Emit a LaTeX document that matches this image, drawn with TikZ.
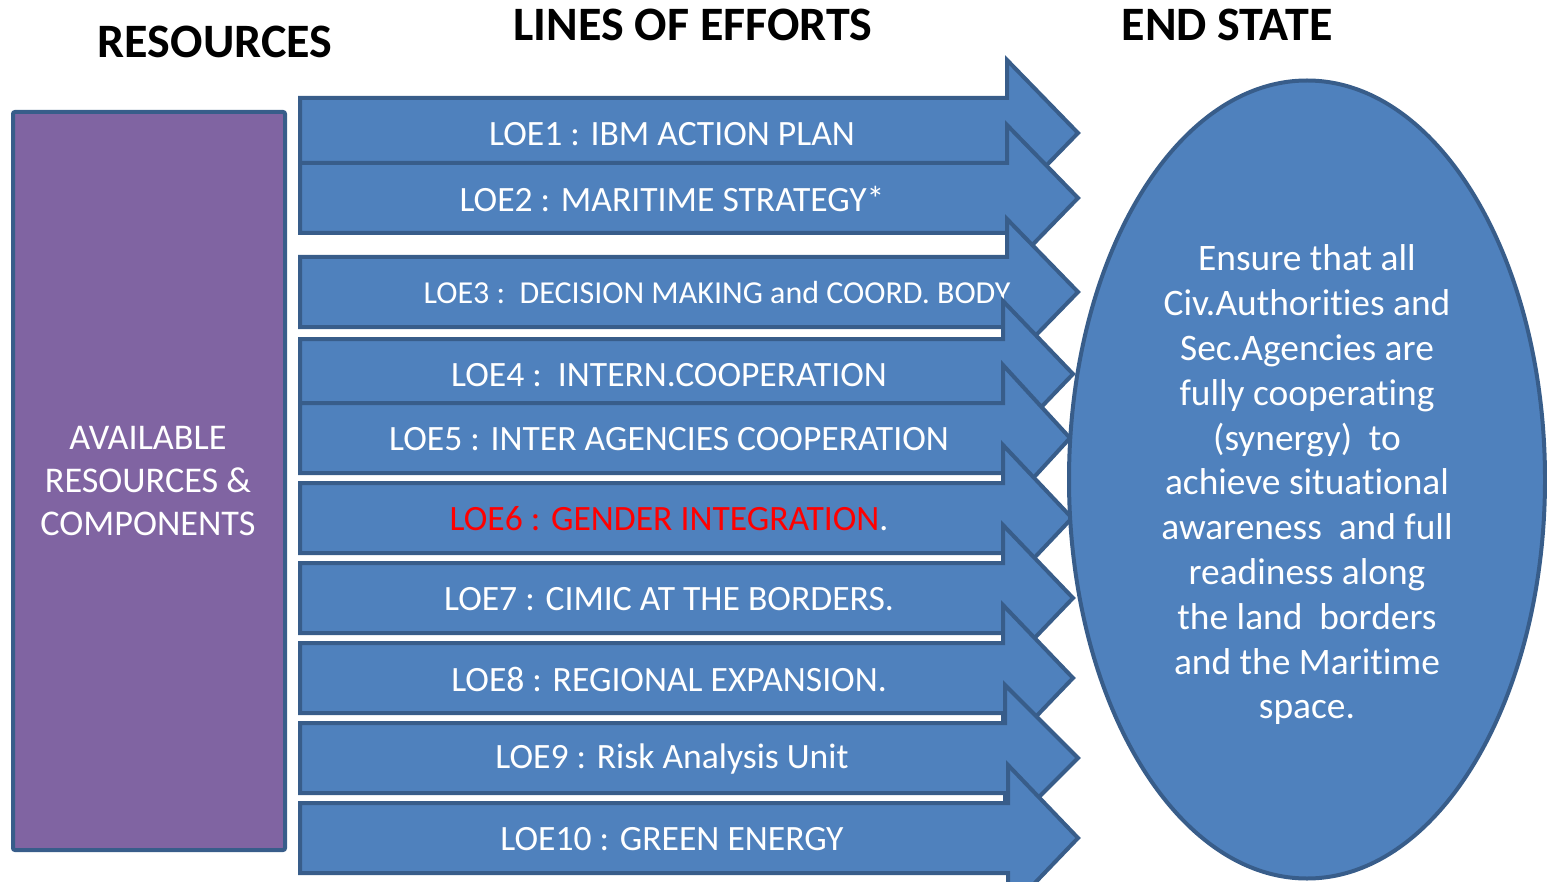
\documentclass[tikz,border=0pt]{standalone}
\usepackage{fontspec}
\setmainfont{Carlito}[Ligatures=NoCommon]
\usetikzlibrary{positioning}

\definecolor{loefill}{RGB}{79,129,189}
\definecolor{loeline}{RGB}{56,93,138}
\definecolor{resfill}{RGB}{128,100,162}

\tikzset{
	loearrow/.style={draw=loeline,fill=loefill,line width=2pt,line join=miter},
	loetext/.style={text=white,inner sep=0pt,font=\fontsize{17.8}{21}\selectfont},
	headtext/.style={inner sep=0pt,font=\fontsize{24}{29}\selectfont\bfseries}
}

\begin{document}
\begin{tikzpicture}[x=0.5pt,y=0.5pt,yscale=-1,xscale=1]
	\useasboundingbox (0,0) rectangle (1547,882);
	\clip (0,0) rectangle (1547,882);
	
	% Titles
	\node[headtext] (restitle) at (215,42) {RESOURCES};
	\node[headtext] (loetitle) at (693,25) {LINES OF EFFORTS};
	\node[headtext] (endtitle) at (1227,25) {END STATE};
	
	% Resources box
	\draw [draw=loeline,fill=resfill,line width=2pt,rounded corners=1pt] (13,112) rectangle (285,850);
	\node[loetext,align=center,font=\fontsize{18.1}{21.5}\selectfont] (res) at (148,481) {AVAILABLE\\RESOURCES \&\\COMPONENTS};
	
	% LOE1
	\draw [loearrow] (300,98) -- (1007,98) -- (1007,60) -- (1078,133) -- (1007,206) -- (1007,168) -- (300,168) -- cycle;
	\node[loetext] (loe1) at (672,134) {LOE1 : IBM ACTION PLAN};
	% LOE2
	\draw [loearrow] (300,163) -- (1007,163) -- (1007,125) -- (1078,198) -- (1007,271) -- (1007,233) -- (300,233) -- cycle;
	\node[loetext] (loe2) at (672,199) {LOE2 : MARITIME STRATEGY*};
	% LOE3
	\draw [loearrow] (300,257) -- (1007,257) -- (1007,219) -- (1078,292) -- (1007,365) -- (1007,327) -- (300,327) -- cycle;
	\node[loetext,font=\fontsize{16}{19}\selectfont] (loe3) at (717,293) {LOE3 :\ \ DECISION MAKING and COORD. BODY};
	% LOE4
	\draw [loearrow] (300,339) -- (1003,339) -- (1003,301) -- (1073,374) -- (1003,447) -- (1003,409) -- (300,409) -- cycle;
	\node[loetext] (loe4) at (669,375) {LOE4 :\ \ INTERN.COOPERATION};
	% LOE5
	\draw [loearrow] (300,403) -- (1003,403) -- (1003,365) -- (1070,438) -- (1003,511) -- (1003,473) -- (300,473) -- cycle;
	\node[loetext] (loe5) at (669,439) {LOE5 : INTER AGENCIES COOPERATION};
	% LOE6
	\draw [loearrow] (300,483) -- (1003,483) -- (1003,445) -- (1072,518) -- (1003,591) -- (1003,553) -- (300,553) -- cycle;
	\node[loetext] (loe6) at (669,519) {\textcolor{red}{LOE6 : GENDER INTEGRATION}.};
	% LOE7
	\draw [loearrow] (300,563) -- (1003,563) -- (1003,525) -- (1073,598) -- (1003,671) -- (1003,633) -- (300,633) -- cycle;
	\node[loetext] (loe7) at (669,599) {LOE7 : CIMIC AT THE BORDERS.};
	% LOE8
	\draw [loearrow] (300,643) -- (1003,643) -- (1003,605) -- (1073,678) -- (1003,751) -- (1003,713) -- (300,713) -- cycle;
	\node[loetext] (loe8) at (669,679) {LOE8 : REGIONAL EXPANSION.};
	% LOE9
	\draw [loearrow] (300,723) -- (1005,723) -- (1005,685) -- (1078,758) -- (1005,831) -- (1005,793) -- (300,793) -- cycle;
	\node[loetext] (loe9) at (672,759) {LOE9 : Risk Analysis Unit};
	% LOE10
	\draw [loearrow] (300,803) -- (1008,803) -- (1008,765) -- (1078,838) -- (1008,911) -- (1008,873) -- (300,873) -- cycle;
	\node[loetext] (loe10) at (672,839) {LOE10 : GREEN ENERGY};
	
	% End state
	\draw [draw=loeline,fill=loefill,line width=2pt] (1307,479.5) ellipse (238 and 399);
	\node[loetext,align=center,font=\fontsize{18.7}{22.4}\selectfont] (endstate) at (1307,485) {Ensure that all\\Civ.Authorities and\\Sec.Agencies are\\fully cooperating\\(synergy)\ \ to\\achieve situational\\awareness\ \ and full\\readiness along\\the land\ \ borders\\and the Maritime\\space.};
	
\end{tikzpicture}
\end{document}
